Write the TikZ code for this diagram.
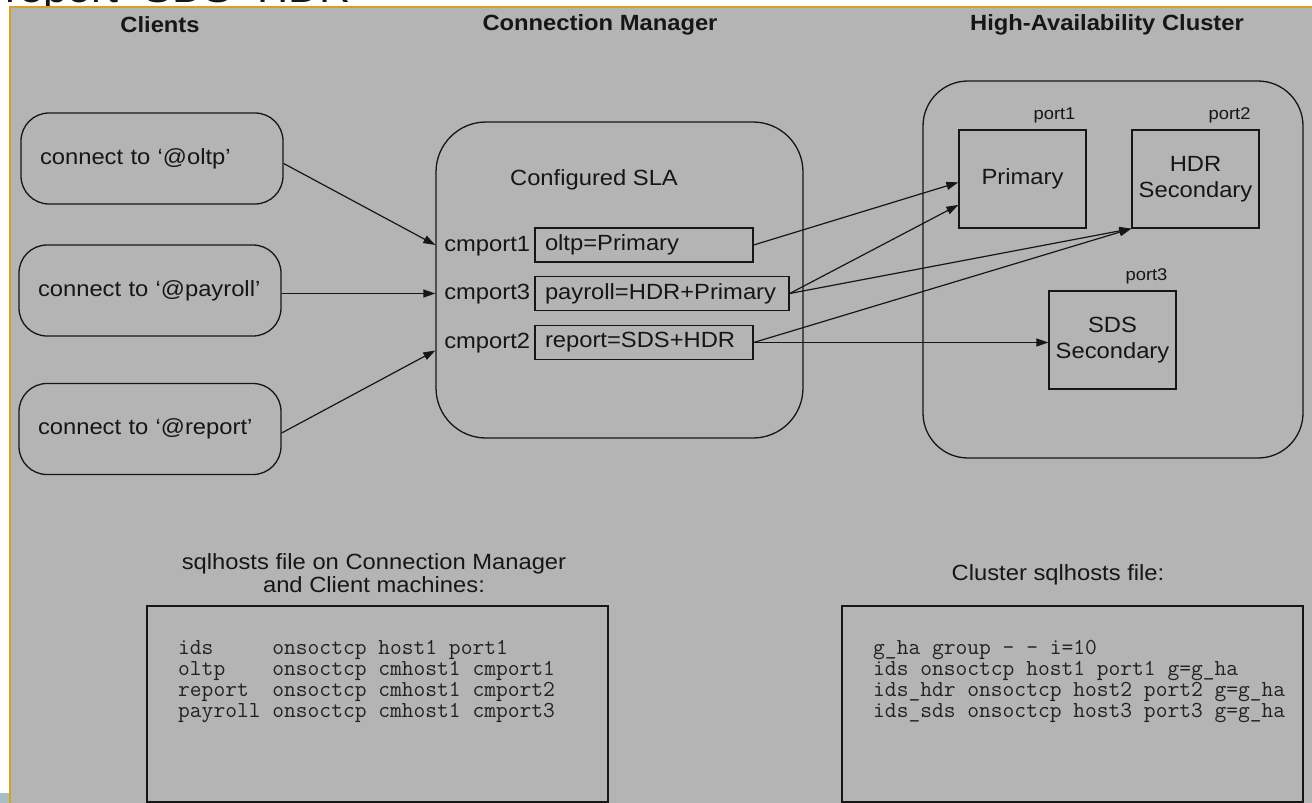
\documentclass[tikz,border=0pt]{standalone}
\usepackage{fontspec}
\setmainfont{Liberation Sans}[FakeStretch=1.08]
\usetikzlibrary{arrows.meta,calc}
\definecolor{slidegray}{HTML}{B4B4B4}
\definecolor{rulegold}{HTML}{D4A320}
\definecolor{ink}{HTML}{161616}
\definecolor{listink}{HTML}{222222}
\definecolor{cornerblue}{HTML}{A9BEC3}
\begin{document}
\begin{tikzpicture}[x=1pt,y=-1pt,
  txt/.style={font=\fontsize{22}{26}\selectfont, text=ink},
  head/.style={font=\bfseries\fontsize{22}{26}\selectfont, text=ink},
  small/.style={font=\fontsize{17}{20}\selectfont, text=ink, inner sep=0},
  client/.style={txt, draw=ink, line width=1.3pt, rounded corners=28pt,
    minimum height=91pt, inner xsep=19pt, text width=224pt, align=left},
  panel/.style={draw=ink, line width=1.3pt},
  slabox/.style={txt, draw=ink, line width=1.3pt, minimum height=34pt,
    inner xsep=10pt, align=left},
  server/.style={txt, draw=ink, line width=1.3pt, minimum width=127pt,
    minimum height=98pt, align=center, inner sep=0},
  filebox/.style={draw=ink, line width=1.3pt, minimum width=461pt, minimum height=196pt},
  listing/.style={font=\ttfamily\fontsize{22.86}{21}\selectfont, text=listink,
    align=left, inner sep=0, anchor=north west},
  conn/.style={draw=ink, line width=1.2pt, -{Triangle[length=12pt,width=8pt]}}
]
\useasboundingbox (0,0) rectangle (1312,803);

% slide title, mostly above the page
\node[anchor=base west, inner sep=0, text=ink, font=\fontsize{40}{48}\selectfont]
  (slidetitle) at (5,2.5) {report=SDS+HDR};

% slide background
\fill[slidegray] (10,7) rectangle (1312,803);
\draw[rulegold, line width=1.5pt] (10,803) -- (10,7) -- (1312,7);
\fill[cornerblue] (0,793) rectangle (9,803);

% column headings
\node[head] (hclients) at (160,25) {Clients};
\node[head] (hcm) at (600,25) {Connection Manager};
\node[head] (hcluster) at (1107,25) {High-Availability Cluster};

% clients
\node[client] (c1) at (152,158.5) {connect to ‘@oltp’};
\node[client] (c2) at (150,290.5) {connect to ‘@payroll’};
\node[client] (c3) at (150,429) {connect to ‘@report’};

% connection manager
\node[panel, rounded corners=50pt, minimum width=367pt, minimum height=316pt] (cm) at (619.5,280) {};
\node[txt] (sla) at (594,180) {Configured SLA};
\node[slabox, text width=198pt] (r1) at (644,245) {oltp=Primary};
\node[slabox, text width=234pt] (r2) at (662,293.5) {payroll=HDR+Primary};
\node[slabox, text width=198pt] (r3) at (644,342.5) {report=SDS+HDR};
\node[txt, anchor=east, inner sep=0] (p1) at ($(r1.west)+(-4,1)$) {cmport1};
\node[txt, anchor=east, inner sep=0] (p3) at ($(r2.west)+(-4,1)$) {cmport3};
\node[txt, anchor=east, inner sep=0] (p2) at ($(r3.west)+(-4,1)$) {cmport2};

% cluster
\node[panel, rounded corners=45pt, minimum width=380pt, minimum height=377pt] (ha) at (1113,269.5) {};
\node[server] (pri) at (1022.5,179) {Primary};
\node[server] (hdr) at (1195.5,179) {HDR\\Secondary};
\node[server] (sds) at (1112.5,340) {SDS\\Secondary};
\node[small, anchor=east] (port1) at ($(pri.north east)+(-11,-14)$) {port1};
\node[small, anchor=east] (port2) at ($(hdr.north east)+(-9,-14)$) {port2};
\node[small, anchor=east] (port3) at ($(sds.north east)+(-9,-14)$) {port3};

% client connections
\draw[conn] (c1.east) ++(0,5) -- (cm.west |- r1);
\draw[conn] (c2.east |- r2) -- (cm.west |- r2);
\draw[conn] (c3.east) ++(0,4) -- ($(cm.west |- r3)+(0,8)$);

% service level routing
\draw[conn] (r1.east) -- (pri.183);
\draw[conn] (r2.east) -- (pri.202);
\draw[conn] (r2.east) -- (hdr.south west);
\draw[conn] (r3.east) -- (hdr.south west);
\draw[conn] (r3.east) -- (sds.west |- r3.east);

% sqlhosts files
\node[txt, align=center, font=\fontsize{22}{23}\selectfont] (cmfiletitle) at (374,573.5)
  {sqlhosts file on Connection Manager\\and Client machines:};
\node[txt] (clfiletitle) at (1058,575) {Cluster sqlhosts file:};
\node[filebox] (cmfile) at (377.5,704) {};
\node[filebox] (clfile) at (1072.5,704) {};
\node[listing] (cmlist) at (178,640)
  {ids~~~~~onsoctcp host1 port1\\
   oltp~~~~onsoctcp cmhost1 cmport1\\
   report~~onsoctcp cmhost1 cmport2\\
   payroll onsoctcp cmhost1 cmport3};
\node[listing] (cllist) at (873,640)
  {g\_ha group – – i=10\\
   ids onsoctcp host1 port1 g=g\_ha\\
   ids\_hdr onsoctcp host2 port2 g=g\_ha\\
   ids\_sds onsoctcp host3 port3 g=g\_ha};
\end{tikzpicture}
\end{document}
